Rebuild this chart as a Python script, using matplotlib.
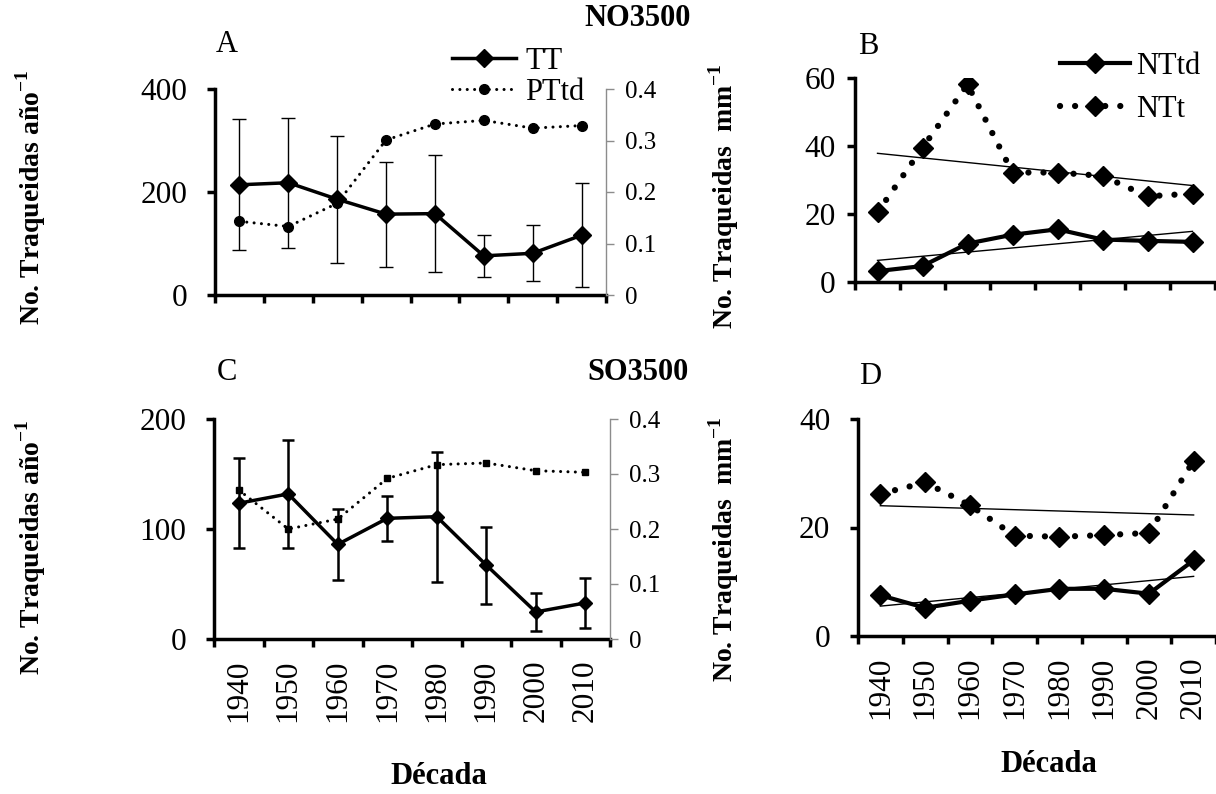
import numpy as np
import matplotlib.pyplot as plt

plt.rcParams['font.family'] = ['Liberation Serif', 'DejaVu Serif']
plt.rcParams['mathtext.fontset'] = 'custom'
plt.rcParams['mathtext.rm'] = 'Liberation Serif'
plt.rcParams['mathtext.bf'] = 'Liberation Serif:bold'

# data
decades = ['1940', '1950', '1960', '1970', '1980', '1990', '2000', '2010']
ptd_ticks = [0, 0.1, 0.2, 0.3, 0.4]
ptd_labels = ['0', '0.1', '0.2', '0.3', '0.4']

# NO3500
a_tt = [214, 218, 186, 157, 158, 76, 81, 116]
a_tt_err = [127, 126, 123, 102, 113, 41, 54, 101]
a_ptd = [0.143, 0.133, 0.178, 0.301, 0.332, 0.339, 0.324, 0.329]
b_nttd = [3.2, 4.7, 11.3, 13.9, 15.5, 12.5, 12.1, 11.8]
b_ntt = [20.5, 39.5, 58.1, 32.2, 32.2, 31.2, 25.2, 26.0]

# SO3500
c_tt = [123.4, 131.9, 86, 109.7, 111.2, 67.2, 24.6, 32.8]
c_tt_err = [41, 49, 32, 20.5, 59, 35, 17.5, 22.7]
c_ptd = [0.271, 0.200, 0.218, 0.292, 0.317, 0.320, 0.306, 0.303]
d_nttd = [7.5, 5.2, 6.5, 7.65, 8.7, 8.7, 7.8, 13.95]
d_ntt = [26.2, 28.3, 24.1, 18.5, 18.3, 18.6, 19.0, 32.3]

x = np.arange(len(decades))
W, H = 1216, 794
DOT = (0, (0.01, 2.4))

fig = plt.figure(figsize=(W / 100, H / 100), dpi=100)


def box(left, top, right, bottom):
    # pixel box -> figure fraction
    return [left / W, 1 - bottom / H, (right - left) / W, (bottom - top) / H]


def fxy(px, py):
    return px / W, 1 - py / H


def base_axis(ax, ymax, yticks, ypad, labels):
    ax.set_xlim(-0.5, len(decades) - 0.5)
    ax.set_ylim(0, ymax)
    ax.set_yticks(yticks)
    ax.set_xticks(np.arange(len(decades) + 1) - 0.5)
    ax.set_xticklabels([])
    ax.set_xticks(x, minor=True)
    ax.set_xticklabels(decades if labels else [], minor=True, rotation=90)
    for s in ['top', 'right']:
        ax.spines[s].set_visible(False)
    for s in ['left', 'bottom']:
        ax.spines[s].set_linewidth(2.5)
    ax.tick_params(which='major', direction='out', length=6, width=2.5, labelsize=22.5)
    ax.tick_params(axis='y', pad=ypad)
    ax.tick_params(axis='x', which='minor', length=0, pad=15, labelsize=22.5)


def gray_axis(ax):
    tw = ax.twinx()
    tw.set_ylim(0, 0.4)
    tw.set_yticks(ptd_ticks)
    tw.set_yticklabels(ptd_labels)
    for s in ['top', 'left', 'bottom']:
        tw.spines[s].set_visible(False)
    tw.spines['right'].set_color('#8c8c8c')
    tw.spines['right'].set_linewidth(1)
    tw.tick_params(axis='y', colors='#8c8c8c', labelcolor='black', length=6,
                   width=1, labelsize=18, pad=8)
    return tw


def trend(ax, y):
    coef = np.polyfit(x, y, 1)
    ax.plot(x, np.polyval(coef, x), color='black', lw=1)


# ---- A
axA = fig.add_axes(box(215, 89, 606, 295))
base_axis(axA, 400, [0, 200, 400], 14, False)
twA = gray_axis(axA)
hA1 = axA.errorbar(x, a_tt, yerr=a_tt_err, color='black', lw=2.5, marker='D', ms=9,
                   elinewidth=1, capsize=5, capthick=1, label='TT')
hA2, = twA.plot(x, a_ptd, color='black', lw=2.2, ls=DOT, dash_capstyle='round',
                marker='o', ms=7, label='PTtd')
axA.legend([hA1.lines[0], hA2], ['TT', 'PTtd'], loc='upper left',
           bbox_to_anchor=fxy(452, 47), bbox_transform=fig.transFigure,
           frameon=False, fontsize=22, handlelength=2.1, handletextpad=0.3,
           labelspacing=0.05, borderpad=0, borderaxespad=0)

# ---- B
axB = fig.add_axes(box(855, 78, 1215, 282))
base_axis(axB, 60, [0, 20, 40, 60], 8, False)
axB.plot(x, b_nttd, color='black', lw=3, marker='D', ms=10, label='NTtd')
axB.plot(x, b_ntt, color='black', lw=4.5, ls=DOT, dash_capstyle='round',
         marker='D', ms=10, label='NTt')
trend(axB, b_nttd)
trend(axB, b_ntt)
axB.legend(loc='upper left', bbox_to_anchor=fxy(1060, 52), bbox_transform=fig.transFigure,
           frameon=False, fontsize=22, handlelength=2.3, handletextpad=0.2,
           labelspacing=0.45, borderpad=0, borderaxespad=0)

# ---- C
axC = fig.add_axes(box(214, 419, 610, 639))
base_axis(axC, 200, [0, 100, 200], 14, True)
twC = gray_axis(axC)
axC.errorbar(x, c_tt, yerr=c_tt_err, color='black', lw=2.5, marker='D', ms=7,
             elinewidth=1.8, capsize=4.5, capthick=1.8)
twC.plot(x, c_ptd, color='black', lw=2.2, ls=DOT, dash_capstyle='round',
         marker='s', ms=5)

# ---- D
axD = fig.add_axes(box(858, 419, 1216, 636))
base_axis(axD, 40, [0, 20, 40], 14, True)
axD.plot(x, d_nttd, color='black', lw=3, marker='D', ms=10)
axD.plot(x, d_ntt, color='black', lw=4.5, ls=DOT, dash_capstyle='round',
         marker='D', ms=10)
trend(axD, d_nttd)
trend(axD, d_ntt)

# ---- texts
ylab_l = 'No. Traqueidas año$^{\\mathbf{-1}}$'
ylab_r = 'No. Traqueidas  mm$^{\\mathbf{-1}}$'
for (px, py), s in [((31, 197), ylab_l), ((31, 547), ylab_l),
                    ((724, 196), ylab_r), ((724, 549), ylab_r)]:
    fig.text(*fxy(px, py), s, rotation=90, ha='center', va='center',
             fontsize=20, fontweight='bold')

for (px, py), s in [((439, 777), 'Década'), ((1049, 765), 'Década'),
                    ((638, 19), 'NO3500'), ((638, 373), 'SO3500')]:
    fig.text(*fxy(px, py), s, ha='center', va='center', fontsize=22, fontweight='bold')

for (px, py), s in [((227, 44), 'A'), ((868, 47), 'B'), ((227, 373), 'C'), ((870, 377), 'D')]:
    fig.text(*fxy(px, py), s, ha='center', va='center', fontsize=22)

fig.savefig('out.png', dpi=100)
